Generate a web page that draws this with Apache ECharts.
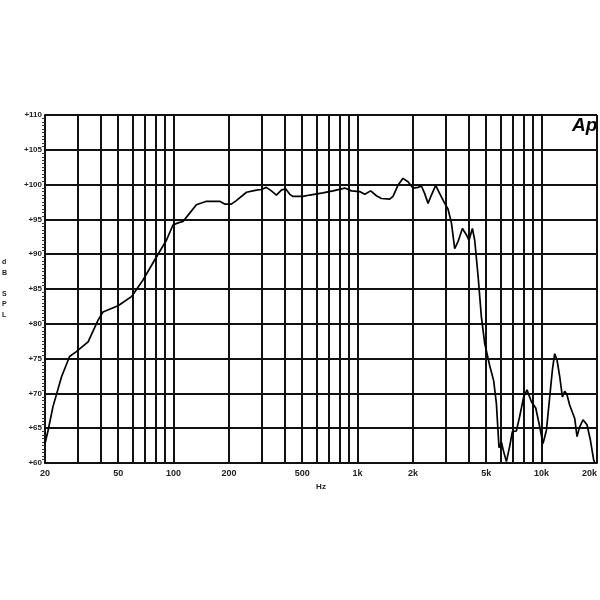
<!DOCTYPE html>
<html><head><meta charset="utf-8">
<script src="https://cdn.jsdelivr.net/npm/echarts@6/dist/echarts.min.js"></script>
<style>html,body{margin:0;padding:0;background:#fff}#c{width:600px;height:600px}</style>
</head><body><div id="c"></div>
<script>
const freqHz = [20, 20.8, 22.1, 24.6, 27.2, 29.6, 34.3, 38.8, 41.3, 49.9, 59, 68.2, 79, 91.4, 99.2, 105.7, 112.5, 122.3, 133, 150.8, 178, 189.6, 206, 219, 249, 282, 300, 319, 340, 362, 385, 406, 428, 446, 505, 549, 648, 735, 851, 926, 1026, 1093, 1178, 1265, 1347, 1494, 1557, 1657, 1765, 1878, 2000, 2129, 2222, 2316, 2414, 2518, 2657, 2794, 2975, 3099, 3235, 3370, 3512, 3711, 3900, 4031, 4206, 4329, 4511, 4706, 4906, 5221, 5490, 5680, 5868, 6046, 6223, 6436, 6708, 6934, 7291, 7601, 7991, 8330, 8802, 9290, 9680, 10176, 10620, 11068, 11448, 11776, 12126, 12544, 12972, 13352, 13740, 14213, 15133, 15574, 16108, 16790, 17650, 18412, 19188, 19500];
const splDb = [62.8, 64.7, 68.1, 72.4, 75.3, 76.0, 77.4, 80.5, 81.7, 82.6, 83.9, 86.3, 89.2, 92.0, 94.2, 94.5, 94.7, 95.9, 97.1, 97.6, 97.6, 97.2, 97.2, 97.7, 98.9, 99.2, 99.3, 99.6, 99.1, 98.5, 99.2, 99.4, 98.6, 98.3, 98.3, 98.5, 98.8, 99.1, 99.5, 99.1, 99.0, 98.6, 99.1, 98.4, 98.0, 97.9, 98.3, 99.9, 100.9, 100.4, 99.5, 99.6, 99.8, 98.7, 97.3, 98.5, 99.9, 98.7, 97.3, 96.5, 94.5, 90.8, 91.8, 93.7, 92.8, 92.0, 93.7, 92.0, 87.0, 81.0, 77.2, 74.0, 71.8, 68.5, 62.2, 63.0, 61.6, 60.2, 62.4, 64.5, 64.6, 66.7, 69.5, 70.5, 68.8, 67.9, 65.7, 62.8, 64.7, 69.5, 73.4, 75.7, 74.8, 72.4, 69.5, 70.3, 69.8, 68.3, 66.4, 63.8, 65.2, 66.2, 65.5, 63.3, 60.4, 60.0];
const gridFreqs = [20, 30, 40, 50, 60, 70, 80, 90, 100, 200, 300, 400, 500, 600, 700, 800, 900, 1000, 2000, 3000, 4000, 5000, 6000, 7000, 8000, 9000, 10000, 20000];
const labelFreqs = [20, 50, 100, 200, 500, 1000, 2000, 5000, 10000, 20000];
const yMin = 60, yMax = 110, yStep = 5;

const chart = echarts.init(document.getElementById('c'));
const lineCol = '#111';
chart.setOption({
  animation: false,
  backgroundColor: '#fff',
  grid: { left: 45, top: 115, width: 552, height: 348, containLabel: false, outerBoundsMode: 'none' },
  xAxis: {
    type: 'log', logBase: 10, min: 20, max: 20000,
    name: 'Hz', nameLocation: 'middle', nameGap: 20,
    nameTextStyle: { fontSize: 8, fontWeight: 'bold', color: '#222', fontFamily: 'Liberation Sans' },
    axisLine: { show: true, lineStyle: { color: lineCol, width: 2 } },
    axisTick: { show: false, customValues: gridFreqs },
    axisLabel: {
      customValues: labelFreqs, margin: 6, fontSize: 9, fontWeight: 'bold', color: '#222',
      fontFamily: 'Liberation Sans', hideOverlap: false, alignMaxLabel: 'right',
      formatter: v => v >= 1000 ? (v / 1000) + 'k' : String(v)
    },
    splitLine: { show: true, lineStyle: { color: lineCol, width: 2 } }
  },
  yAxis: {
    type: 'value', min: yMin, max: yMax, interval: yStep,
    axisLine: { show: true, lineStyle: { color: lineCol, width: 2 } },
    axisTick: { show: false },
    minorTick: { show: true, splitNumber: 10, length: 3, lineStyle: { color: '#333', width: 1 } },
    axisLabel: { margin: 3, fontSize: 8, fontWeight: 'bold', color: '#222', fontFamily: 'Liberation Sans',
      formatter: v => '+' + v },
    splitLine: { show: true, lineStyle: { color: lineCol, width: 2 } }
  },
  series: [{
    type: 'line', showSymbol: false, smooth: false,
    data: freqHz.map((f, i) => [f, splDb[i]]),
    lineStyle: { color: '#000', width: 1.7 }
  }],
  graphic: [
    { type: 'text', left: 2, top: 257, style: { text: 'd\nB\n\nS\nP\nL', fontSize: 7, fontWeight: 'bold', lineHeight: 10.5, fill: '#222', fontFamily: 'Liberation Sans', align: 'center' } },
    { type: 'text', left: 572, top: 116, style: { text: 'Ap', fontSize: 19, fontWeight: 'bold', fontStyle: 'italic', fill: '#000', fontFamily: 'Liberation Sans' } }
  ]
});
</script></body></html>
